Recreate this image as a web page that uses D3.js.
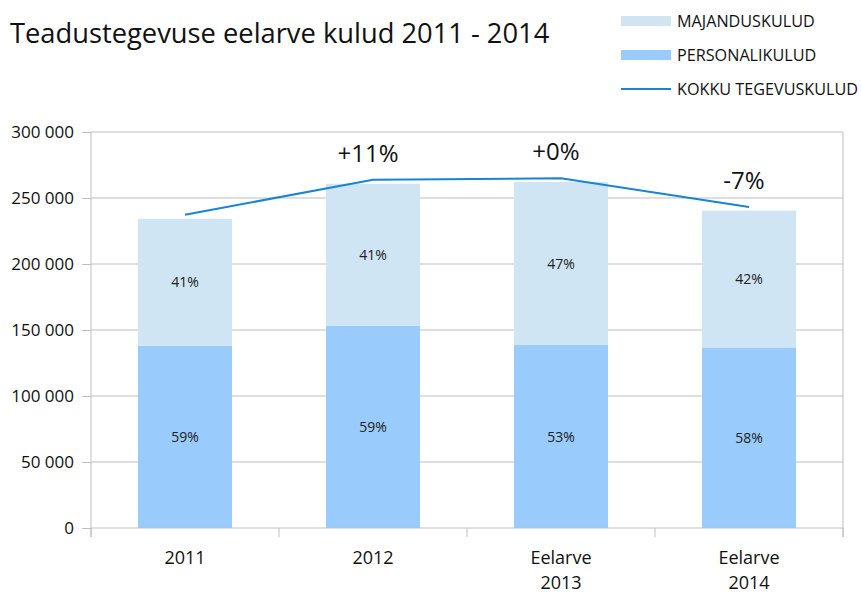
<!DOCTYPE html>
<html>
<head>
<meta charset="utf-8">
<script src="https://cdn.jsdelivr.net/npm/d3@7.9.0/dist/d3.min.js"></script>
<style>
  body { margin: 0; background: #fff; }
  svg { font-family: "Open Sans", sans-serif; }
</style>
</head>
<body>
<svg id="chart" width="861" height="594"></svg>
<script>
const categories = [['2011'], ['2012'], ['Eelarve', '2013'], ['Eelarve', '2014']];
const personal = [138100, 153300, 138600, 136800];
const majandus = [96200, 107500, 123500, 103600];
const total = [237300, 263900, 264900, 243200];
const personalLabels = ['59%', '59%', '53%', '58%'];
const majandusLabels = ['41%', '41%', '47%', '42%'];
const changeLabels = [null, '+11%', '+0%', '-7%'];
const yTicks = [0, 50000, 100000, 150000, 200000, 250000, 300000];

const svg = d3.select('#chart');
const margin = { top: 132, right: 18, bottom: 66, left: 91 };
const width = 861, height = 594;
const plotW = width - margin.left - margin.right;
const plotH = height - margin.top - margin.bottom;

const colors = { maj: '#cfe5f3', pers: '#99cbfd', line: '#1a84d4', grid: '#bfbfbf' };

const idx = d3.range(categories.length);
const x = d3.scaleBand().domain(idx).range([margin.left, margin.left + plotW]).paddingInner(0.5).paddingOuter(0.25);
const band = d3.scaleBand().domain(idx).range([margin.left, margin.left + plotW]);
const y = d3.scaleLinear().domain([0, 300000]).range([margin.top + plotH, margin.top]);

// title
svg.append('text')
  .attr('x', 10).attr('y', 43)
  .attr('font-size', 27.3)
  .attr('fill', '#111')
  .text('Teadustegevuse eelarve kulud 2011 - 2014');

// gridlines
svg.append('g')
  .selectAll('line')
  .data(yTicks.slice(1))
  .join('line')
  .attr('x1', margin.left).attr('x2', margin.left + plotW)
  .attr('y1', d => y(d)).attr('y2', d => y(d))
  .attr('stroke', colors.grid);

// right border
svg.append('line')
  .attr('x1', margin.left + plotW).attr('x2', margin.left + plotW)
  .attr('y1', margin.top).attr('y2', margin.top + plotH + 9)
  .attr('stroke', colors.grid);

// y axis
const yAxis = svg.append('g')
  .attr('transform', `translate(${margin.left},0)`)
  .call(d3.axisLeft(y).tickValues(yTicks).tickSize(9).tickPadding(8)
    .tickFormat(d => d3.format(',')(d).replace(/,/g, ' ')));
yAxis.select('.domain').remove();
yAxis.selectAll('.tick line').attr('stroke', colors.grid);
yAxis.selectAll('text').attr('font-size', 17).attr('fill', '#111').attr('font-family', '"Open Sans", sans-serif');
svg.append('line')
  .attr('x1', margin.left).attr('x2', margin.left)
  .attr('y1', margin.top).attr('y2', margin.top + plotH + 9)
  .attr('stroke', colors.grid);

// bars
const bars = svg.append('g');
bars.selectAll('rect.pers')
  .data(idx)
  .join('rect')
  .attr('class', 'pers')
  .attr('x', i => x(i)).attr('width', x.bandwidth())
  .attr('y', i => y(personal[i]))
  .attr('height', i => y(0) - y(personal[i]))
  .attr('fill', colors.pers);
bars.selectAll('rect.maj')
  .data(idx)
  .join('rect')
  .attr('class', 'maj')
  .attr('x', i => x(i)).attr('width', x.bandwidth())
  .attr('y', i => y(personal[i] + majandus[i]))
  .attr('height', i => y(personal[i]) - y(personal[i] + majandus[i]))
  .attr('fill', colors.maj);

// x axis
svg.append('line')
  .attr('x1', margin.left).attr('x2', margin.left + plotW)
  .attr('y1', y(0)).attr('y2', y(0))
  .attr('stroke', colors.grid);
svg.append('g')
  .selectAll('line')
  .data(d3.range(categories.length + 1))
  .join('line')
  .attr('x1', i => margin.left + i * band.bandwidth())
  .attr('x2', i => margin.left + i * band.bandwidth())
  .attr('y1', y(0)).attr('y2', y(0) + 9)
  .attr('stroke', colors.grid);

const xLabels = svg.append('g')
  .selectAll('text')
  .data(idx)
  .join('text')
  .attr('x', i => x(i) + x.bandwidth() / 2)
  .attr('y', 564)
  .attr('text-anchor', 'middle')
  .attr('font-size', 18)
  .attr('fill', '#111');
xLabels.selectAll('tspan')
  .data(i => categories[i])
  .join('tspan')
  .attr('x', function () { return d3.select(this.parentNode).attr('x'); })
  .attr('dy', (d, j) => j === 0 ? 0 : 25)
  .text(d => d);

// segment percentages
const pctG = svg.append('g').attr('font-size', 14).attr('fill', '#222').attr('text-anchor', 'middle');
pctG.selectAll('text.p')
  .data(idx)
  .join('text')
  .attr('class', 'p')
  .attr('x', i => x(i) + x.bandwidth() / 2)
  .attr('y', i => (y(0) + y(personal[i])) / 2 + 5)
  .text(i => personalLabels[i]);
pctG.selectAll('text.m')
  .data(idx)
  .join('text')
  .attr('class', 'm')
  .attr('x', i => x(i) + x.bandwidth() / 2)
  .attr('y', i => (y(personal[i]) + y(personal[i] + majandus[i])) / 2 + 5)
  .text(i => majandusLabels[i]);

// total line
const line = d3.line()
  .x(i => x(i) + x.bandwidth() / 2)
  .y(i => y(total[i]));
svg.append('path')
  .datum(idx)
  .attr('d', line)
  .attr('fill', 'none')
  .attr('stroke', colors.line)
  .attr('stroke-width', 2);

// change labels
svg.append('g')
  .selectAll('text')
  .data(idx.filter(i => changeLabels[i]))
  .join('text')
  .attr('x', i => x(i) + x.bandwidth() / 2 - 5)
  .attr('y', i => y(total[i]) - 18)
  .attr('text-anchor', 'middle')
  .attr('font-size', 24)
  .attr('fill', '#111')
  .text(i => changeLabels[i]);

// legend
const legendItems = [
  { name: 'MAJANDUSKULUD', type: 'rect', color: colors.maj },
  { name: 'PERSONALIKULUD', type: 'rect', color: colors.pers },
  { name: 'KOKKU TEGEVUSKULUD', type: 'line', color: colors.line }
];
const lg = svg.append('g').attr('transform', 'translate(621,21)');
const li = lg.selectAll('g')
  .data(legendItems)
  .join('g')
  .attr('transform', (d, i) => `translate(0,${i * 34})`);
li.filter(d => d.type === 'rect').append('rect')
  .attr('x', 0).attr('y', -5).attr('width', 50).attr('height', 10)
  .attr('fill', d => d.color);
li.filter(d => d.type === 'line').append('line')
  .attr('x1', 0).attr('x2', 50).attr('y1', 0).attr('y2', 0)
  .attr('stroke', d => d.color).attr('stroke-width', 2);
li.append('text')
  .attr('x', 56).attr('y', 6)
  .attr('font-size', 16.2)
  .attr('fill', '#111')
  .text(d => d.name);
</script>
</body>
</html>
